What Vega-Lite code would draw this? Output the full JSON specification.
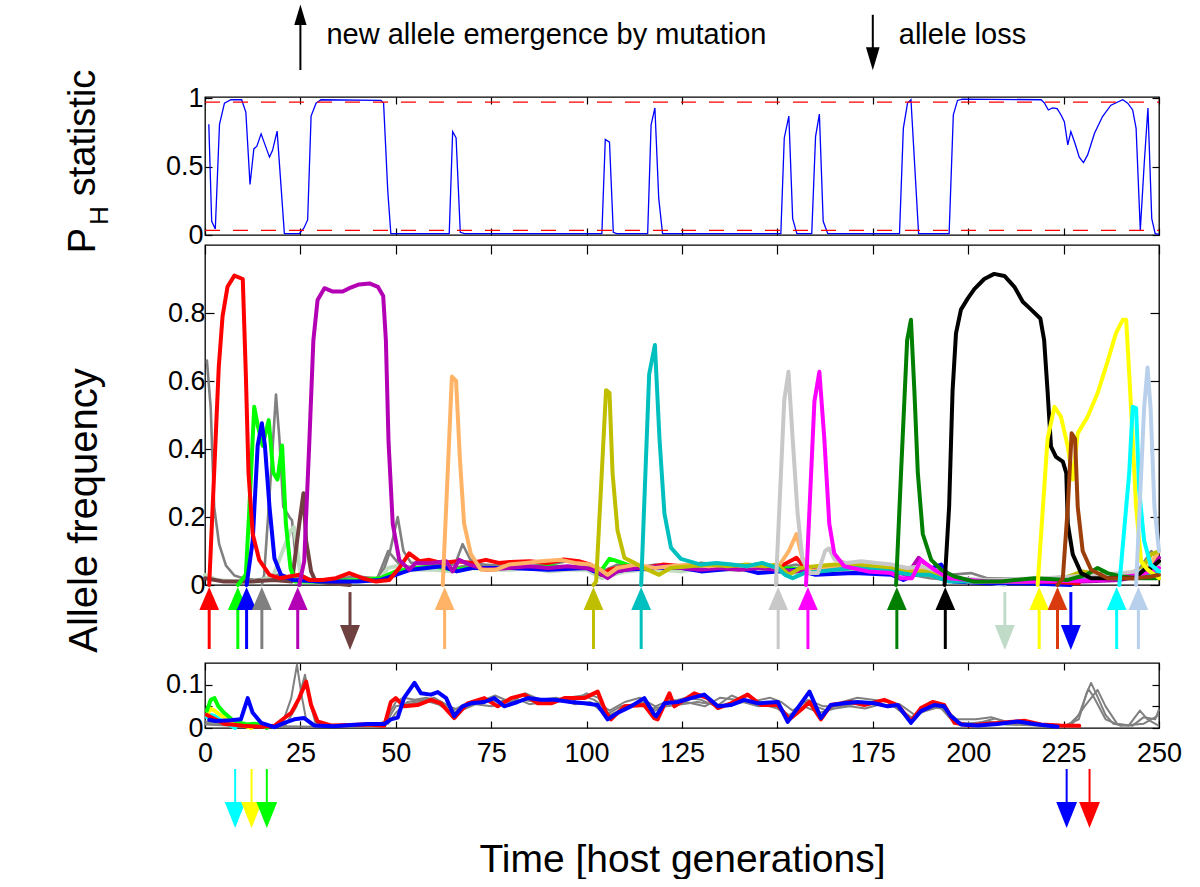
{
"$schema": "https://vega.github.io/schema/vega-lite/v6.json",
"padding": {"left": 63, "top": 0, "right": 0, "bottom": 0},
"autosize": {"type": "pad"},
"spacing": 10,
"bounds": "flush",
"background": "white",
"config": {
 "font": "Liberation Sans",
 "view": {"stroke": "#000000", "strokeWidth": 1.3},
 "axis": {"domain": false, "grid": false, "tickColor": "#000000", "tickWidth": 1.2, "labelColor": "#000000", "titleColor": "#000000", "labelFont": "Liberation Sans", "titleFont": "Liberation Sans", "labelFontSize": 27, "titleFontWeight": "normal"}
},
"resolve": {"scale": {"x": "independent", "y": "independent", "color": "independent"}},
"datasets": {
 "header": [{"t": 25, "dir": "up", "label": "new allele emergence by mutation"}, {"t": 175, "dir": "down", "label": "allele loss"}],
 "rules": [{"h": 0.972}, {"h": 0.034}],
 "ph": [
  {"t":1,"v":0.81},{"t":1.75,"v":0.1},{"t":2.7,"v":0.044},{"t":3.8,"v":0.81},{"t":5.1,"v":0.965},{"t":6.8,"v":0.99},{"t":9.6,"v":0.99},{"t":10.7,"v":0.9},{"t":11.8,"v":0.37},{"t":12.8,"v":0.63},{"t":13.6,"v":0.65},{"t":14.7,"v":0.74},{"t":16.9,"v":0.57},{"t":17.7,"v":0.62},{"t":18.9,"v":0.76},{"t":20.8,"v":0.01},{"t":24.7,"v":0.01},{"t":25.9,"v":0.05},{"t":26.9,"v":0.11},{"t":27.8,"v":0.87},{"t":29.1,"v":0.965},{"t":30.4,"v":0.99},{"t":46.1,"v":0.985},{"t":46.8,"v":0.965},{"t":47.9,"v":0.32},{"t":48.7,"v":0.01},{"t":64,"v":0.01},{"t":64.9,"v":0.757},{"t":65.8,"v":0.71},{"t":66.9,"v":0.02},{"t":68,"v":0.01},{"t":104,"v":0.01},{"t":104.9,"v":0.7},{"t":106,"v":0.68},{"t":107,"v":0.02},{"t":107.9,"v":0.01},{"t":116,"v":0.01},{"t":116.9,"v":0.806},{"t":117.9,"v":0.93},{"t":118.9,"v":0.27},{"t":119.9,"v":0.01},{"t":150.9,"v":0.01},{"t":151.8,"v":0.71},{"t":153,"v":0.87},{"t":154,"v":0.12},{"t":155.1,"v":0.01},{"t":159,"v":0.01},{"t":160,"v":0.72},{"t":161,"v":0.885},{"t":162,"v":0.1},{"t":163.2,"v":0.01},{"t":182,"v":0.01},{"t":183,"v":0.78},{"t":184.1,"v":0.965},{"t":185,"v":0.99},{"t":187,"v":0.01},{"t":195,"v":0.01},{"t":196.1,"v":0.88},{"t":197.2,"v":0.985},{"t":198.5,"v":0.995},{"t":219.1,"v":0.99},{"t":220,"v":0.965},{"t":221,"v":0.915},{"t":222.1,"v":0.93},{"t":223.3,"v":0.925},{"t":224.3,"v":0.88},{"t":225.2,"v":0.83},{"t":226.1,"v":0.66},{"t":226.9,"v":0.757},{"t":228,"v":0.67},{"t":229.1,"v":0.57},{"t":230.2,"v":0.53},{"t":231.3,"v":0.586},{"t":233.1,"v":0.745},{"t":235.2,"v":0.867},{"t":237.4,"v":0.95},{"t":240.5,"v":0.99},{"t":241.8,"v":0.965},{"t":243.1,"v":0.915},{"t":244,"v":0.78},{"t":245.1,"v":0.035},{"t":246.1,"v":0.51},{"t":247.1,"v":0.93},{"t":248.1,"v":0.12},{"t":249,"v":0.01},{"t":250,"v":0.005}
 ],
 "mid": [
  {"s":"grey0","t":0.5,"v":0.66},{"s":"grey0","t":1.5,"v":0.52},{"s":"grey0","t":2.4,"v":0.23},{"s":"grey0","t":3.7,"v":0.12},{"s":"grey0","t":5.5,"v":0.057},{"s":"grey0","t":7.7,"v":0.028},{"s":"grey0","t":10,"v":0.02},{"s":"grey0","t":13,"v":0.015},{"s":"grey0","t":16,"v":0.02},{"s":"grey0","t":19,"v":0.03},{"s":"grey0","t":22,"v":0.025},{"s":"grey0","t":25,"v":0.02},{"s":"grey0","t":30,"v":0.015},{"s":"grey0","t":35,"v":0.02},{"s":"grey0","t":40,"v":0.025},{"s":"grey0","t":45,"v":0.02},{"s":"grey0","t":47,"v":0.05},{"s":"grey0","t":48.5,"v":0.1},{"s":"grey0","t":50.5,"v":0.2},{"s":"grey0","t":52,"v":0.1},{"s":"grey0","t":54,"v":0.065},{"s":"grey0","t":57,"v":0.065},{"s":"grey0","t":62,"v":0.06},{"s":"grey0","t":65.5,"v":0.06},{"s":"grey0","t":67.5,"v":0.12},{"s":"grey0","t":69.5,"v":0.075},{"s":"grey0","t":73,"v":0.06},{"s":"grey0","t":80,"v":0.055},{"s":"grey0","t":85,"v":0.065},{"s":"grey0","t":90,"v":0.06},{"s":"grey0","t":95,"v":0.07},{"s":"grey0","t":100,"v":0.06},{"s":"grey0","t":104,"v":0.04},{"s":"grey0","t":108,"v":0.06},{"s":"grey0","t":113,"v":0.05},{"s":"grey0","t":118,"v":0.06},{"s":"grey0","t":125,"v":0.055},{"s":"grey0","t":130,"v":0.065},{"s":"grey0","t":135,"v":0.06},{"s":"grey0","t":140,"v":0.05},{"s":"grey0","t":145,"v":0.06},{"s":"grey0","t":150,"v":0.05},{"s":"grey0","t":155,"v":0.06},{"s":"grey0","t":160,"v":0.04},{"s":"grey0","t":165,"v":0.055},{"s":"grey0","t":170,"v":0.065},{"s":"grey0","t":175,"v":0.06},{"s":"grey0","t":180,"v":0.05},{"s":"grey0","t":185,"v":0.03},{"s":"grey0","t":190,"v":0.03},{"s":"grey0","t":195,"v":0.03},{"s":"grey0","t":200.7,"v":0.035},{"s":"grey0","t":205,"v":0.02},{"s":"grey0","t":210,"v":0.02},{"s":"grey0","t":220,"v":0.02},{"s":"grey0","t":230,"v":0.03},{"s":"grey0","t":235,"v":0.035},{"s":"grey0","t":240,"v":0.02},{"s":"grey0","t":245,"v":0.05},{"s":"grey0","t":248,"v":0.1},{"s":"grey0","t":250,"v":0.07},
  {"s":"grey","t":14.9,"v":0},{"s":"grey","t":15.5,"v":0.03},{"s":"grey","t":17.3,"v":0.33},{"s":"grey","t":18.6,"v":0.56},{"s":"grey","t":19.5,"v":0.43},{"s":"grey","t":20.5,"v":0.23},{"s":"grey","t":22.1,"v":0.2},{"s":"grey","t":22.8,"v":0.19},{"s":"grey","t":23.6,"v":0.1},{"s":"grey","t":25.3,"v":0.03},{"s":"grey","t":28,"v":0.015},{"s":"grey","t":35,"v":0.01},{"s":"grey","t":45,"v":0.015},{"s":"grey","t":48,"v":0.1},{"s":"grey","t":49.5,"v":0.08},{"s":"grey","t":51,"v":0.06},{"s":"grey","t":55,"v":0.05},{"s":"grey","t":60,"v":0.055},{"s":"grey","t":65,"v":0.05},{"s":"grey","t":70,"v":0.06},{"s":"grey","t":75,"v":0.055},{"s":"grey","t":80,"v":0.05},{"s":"grey","t":85,"v":0.055},{"s":"grey","t":90,"v":0.055},{"s":"grey","t":95,"v":0.05},{"s":"grey","t":100,"v":0.05},{"s":"grey","t":105,"v":0.03},{"s":"grey","t":110,"v":0.05},{"s":"grey","t":115,"v":0.055},{"s":"grey","t":120,"v":0.045},{"s":"grey","t":125,"v":0.05},{"s":"grey","t":130,"v":0.05},{"s":"grey","t":135,"v":0.055},{"s":"grey","t":140,"v":0.055},{"s":"grey","t":145,"v":0.05},{"s":"grey","t":150,"v":0.045},{"s":"grey","t":155,"v":0.05},{"s":"grey","t":160,"v":0.05},{"s":"grey","t":165,"v":0.05},{"s":"grey","t":170,"v":0.05},{"s":"grey","t":175,"v":0.055},{"s":"grey","t":180,"v":0.045},{"s":"grey","t":185,"v":0.03},{"s":"grey","t":190,"v":0.02},{"s":"grey","t":195,"v":0.015},{"s":"grey","t":200,"v":0.01},{"s":"grey","t":210,"v":0.015},{"s":"grey","t":225,"v":0.02},{"s":"grey","t":232,"v":0.03},{"s":"grey","t":240,"v":0.02},{"s":"grey","t":246,"v":0.03},{"s":"grey","t":250,"v":0.08},
  {"s":"palegreen","t":0,"v":0.03},{"s":"palegreen","t":3,"v":0.015},{"s":"palegreen","t":8,"v":0.01},{"s":"palegreen","t":14,"v":0.01},{"s":"palegreen","t":18,"v":0.03},{"s":"palegreen","t":20,"v":0.09},{"s":"palegreen","t":22.5,"v":0.16},{"s":"palegreen","t":23.3,"v":0.17},{"s":"palegreen","t":24.5,"v":0.075},{"s":"palegreen","t":25.3,"v":0.01},{"s":"palegreen","t":30,"v":0.008},{"s":"palegreen","t":40,"v":0.01},{"s":"palegreen","t":46,"v":0.015},{"s":"palegreen","t":48,"v":0.05},{"s":"palegreen","t":50,"v":0.055},{"s":"palegreen","t":55,"v":0.045},{"s":"palegreen","t":60,"v":0.045},{"s":"palegreen","t":65,"v":0.04},{"s":"palegreen","t":70,"v":0.05},{"s":"palegreen","t":75,"v":0.045},{"s":"palegreen","t":80,"v":0.045},{"s":"palegreen","t":85,"v":0.05},{"s":"palegreen","t":90,"v":0.04},{"s":"palegreen","t":95,"v":0.045},{"s":"palegreen","t":100,"v":0.045},{"s":"palegreen","t":104,"v":0.02},{"s":"palegreen","t":110,"v":0.04},{"s":"palegreen","t":115,"v":0.045},{"s":"palegreen","t":120,"v":0.045},{"s":"palegreen","t":125,"v":0.04},{"s":"palegreen","t":130,"v":0.05},{"s":"palegreen","t":135,"v":0.045},{"s":"palegreen","t":140,"v":0.045},{"s":"palegreen","t":145,"v":0.04},{"s":"palegreen","t":150,"v":0.04},{"s":"palegreen","t":155,"v":0.035},{"s":"palegreen","t":160,"v":0.045},{"s":"palegreen","t":165,"v":0.04},{"s":"palegreen","t":170,"v":0.045},{"s":"palegreen","t":175,"v":0.04},{"s":"palegreen","t":180,"v":0.04},{"s":"palegreen","t":185,"v":0.035},{"s":"palegreen","t":190,"v":0.03},{"s":"palegreen","t":195,"v":0.015},{"s":"palegreen","t":200,"v":0.01},{"s":"palegreen","t":205,"v":0.008},{"s":"palegreen","t":209.6,"v":0},
  {"s":"brown1","t":0,"v":0.02},{"s":"brown1","t":5,"v":0.01},{"s":"brown1","t":12,"v":0.01},{"s":"brown1","t":18,"v":0.015},{"s":"brown1","t":22.8,"v":0.01},{"s":"brown1","t":24.7,"v":0.18},{"s":"brown1","t":25.8,"v":0.27},{"s":"brown1","t":26.5,"v":0.13},{"s":"brown1","t":27.8,"v":0.04},{"s":"brown1","t":29,"v":0.01},{"s":"brown1","t":33,"v":0.005},{"s":"brown1","t":38,"v":0},
  {"s":"green","t":8.6,"v":0},{"s":"green","t":10.7,"v":0.03},{"s":"green","t":11.6,"v":0.22},{"s":"green","t":12.9,"v":0.524},{"s":"green","t":13.8,"v":0.47},{"s":"green","t":15.1,"v":0.41},{"s":"green","t":16.7,"v":0.485},{"s":"green","t":17.9,"v":0.33},{"s":"green","t":19,"v":0.31},{"s":"green","t":20.2,"v":0.41},{"s":"green","t":21.2,"v":0.18},{"s":"green","t":22.4,"v":0.05},{"s":"green","t":23.6,"v":0.01},{"s":"green","t":30,"v":0.01},{"s":"green","t":40,"v":0.015},{"s":"green","t":46,"v":0.02},{"s":"green","t":50,"v":0.04},{"s":"green","t":55,"v":0.05},{"s":"green","t":60,"v":0.055},{"s":"green","t":65,"v":0.045},{"s":"green","t":70,"v":0.05},{"s":"green","t":80,"v":0.05},{"s":"green","t":90,"v":0.055},{"s":"green","t":100,"v":0.05},{"s":"green","t":104,"v":0.045},{"s":"green","t":106,"v":0.077},{"s":"green","t":108,"v":0.07},{"s":"green","t":112,"v":0.055},{"s":"green","t":120,"v":0.05},{"s":"green","t":130,"v":0.05},{"s":"green","t":140,"v":0.055},{"s":"green","t":150,"v":0.05},{"s":"green","t":160,"v":0.045},{"s":"green","t":170,"v":0.05},{"s":"green","t":180,"v":0.04},{"s":"green","t":190,"v":0.03},{"s":"green","t":200,"v":0.01},{"s":"green","t":220,"v":0.01},{"s":"green","t":240,"v":0.02},{"s":"green","t":250,"v":0.06},
  {"s":"blue","t":10.9,"v":0},{"s":"blue","t":12.5,"v":0.13},{"s":"blue","t":13.8,"v":0.41},{"s":"blue","t":14.9,"v":0.476},{"s":"blue","t":15.7,"v":0.41},{"s":"blue","t":16.9,"v":0.23},{"s":"blue","t":18.2,"v":0.078},{"s":"blue","t":19.9,"v":0.03},{"s":"blue","t":23,"v":0.015},{"s":"blue","t":30,"v":0.01},{"s":"blue","t":40,"v":0.01},{"s":"blue","t":46,"v":0.015},{"s":"blue","t":50,"v":0.03},{"s":"blue","t":54,"v":0.045},{"s":"blue","t":58,"v":0.05},{"s":"blue","t":62,"v":0.055},{"s":"blue","t":66,"v":0.04},{"s":"blue","t":70,"v":0.05},{"s":"blue","t":80,"v":0.05},{"s":"blue","t":90,"v":0.045},{"s":"blue","t":100,"v":0.05},{"s":"blue","t":104,"v":0.03},{"s":"blue","t":110,"v":0.045},{"s":"blue","t":118,"v":0.05},{"s":"blue","t":125,"v":0.05},{"s":"blue","t":130,"v":0.04},{"s":"blue","t":135,"v":0.045},{"s":"blue","t":140,"v":0.05},{"s":"blue","t":145,"v":0.035},{"s":"blue","t":150,"v":0.04},{"s":"blue","t":155,"v":0.045},{"s":"blue","t":160,"v":0.03},{"s":"blue","t":170,"v":0.035},{"s":"blue","t":180,"v":0.03},{"s":"blue","t":183,"v":0.015},{"s":"blue","t":187,"v":0.035},{"s":"blue","t":192.9,"v":0.06},{"s":"blue","t":196,"v":0.01},{"s":"blue","t":205,"v":0.005},{"s":"blue","t":215,"v":0.005},{"s":"blue","t":226.9,"v":0},
  {"s":"red","t":1.1,"v":0},{"s":"red","t":2.4,"v":0.33},{"s":"red","t":3.6,"v":0.64},{"s":"red","t":4.6,"v":0.79},{"s":"red","t":5.9,"v":0.877},{"s":"red","t":7.7,"v":0.91},{"s":"red","t":9.9,"v":0.9},{"s":"red","t":10.7,"v":0.62},{"s":"red","t":11.4,"v":0.33},{"s":"red","t":12.5,"v":0.15},{"s":"red","t":14.2,"v":0.074},{"s":"red","t":16.9,"v":0.03},{"s":"red","t":19.5,"v":0.02},{"s":"red","t":22.1,"v":0.025},{"s":"red","t":24.7,"v":0.03},{"s":"red","t":27.3,"v":0.015},{"s":"red","t":30.8,"v":0.015},{"s":"red","t":34.3,"v":0.02},{"s":"red","t":37.8,"v":0.035},{"s":"red","t":41.3,"v":0.02},{"s":"red","t":44.8,"v":0.01},{"s":"red","t":48.3,"v":0.015},{"s":"red","t":50.9,"v":0.05},{"s":"red","t":53.5,"v":0.093},{"s":"red","t":56.2,"v":0.07},{"s":"red","t":58.8,"v":0.074},{"s":"red","t":62,"v":0.065},{"s":"red","t":66,"v":0.07},{"s":"red","t":70,"v":0.065},{"s":"red","t":73.6,"v":0.074},{"s":"red","t":77,"v":0.065},{"s":"red","t":80,"v":0.068},{"s":"red","t":85,"v":0.07},{"s":"red","t":90,"v":0.065},{"s":"red","t":94,"v":0.075},{"s":"red","t":98,"v":0.07},{"s":"red","t":101,"v":0.06},{"s":"red","t":104,"v":0.03},{"s":"red","t":106,"v":0.045},{"s":"red","t":110,"v":0.055},{"s":"red","t":115,"v":0.05},{"s":"red","t":120,"v":0.06},{"s":"red","t":125,"v":0.055},{"s":"red","t":130,"v":0.06},{"s":"red","t":135,"v":0.05},{"s":"red","t":140,"v":0.055},{"s":"red","t":145,"v":0.06},{"s":"red","t":150,"v":0.05},{"s":"red","t":155,"v":0.08},{"s":"red","t":158,"v":0.04},{"s":"red","t":162,"v":0.05},{"s":"red","t":167,"v":0.06},{"s":"red","t":172,"v":0.06},{"s":"red","t":177,"v":0.055},{"s":"red","t":182,"v":0.05},{"s":"red","t":186,"v":0.04},{"s":"red","t":190,"v":0.045},{"s":"red","t":194,"v":0.02},{"s":"red","t":200,"v":0.01},{"s":"red","t":210,"v":0.01},{"s":"red","t":220,"v":0.01},{"s":"red","t":229,"v":0.005},
  {"s":"purple","t":24.7,"v":0},{"s":"purple","t":26,"v":0.07},{"s":"purple","t":27.3,"v":0.41},{"s":"purple","t":28.4,"v":0.72},{"s":"purple","t":29.5,"v":0.838},{"s":"purple","t":31.3,"v":0.873},{"s":"purple","t":33.5,"v":0.863},{"s":"purple","t":36.1,"v":0.863},{"s":"purple","t":37.8,"v":0.873},{"s":"purple","t":40.4,"v":0.884},{"s":"purple","t":43.1,"v":0.887},{"s":"purple","t":45.3,"v":0.877},{"s":"purple","t":46.7,"v":0.85},{"s":"purple","t":47.4,"v":0.72},{"s":"purple","t":48.1,"v":0.42},{"s":"purple","t":49.2,"v":0.18},{"s":"purple","t":50.9,"v":0.074},{"s":"purple","t":53.5,"v":0.045},{"s":"purple","t":55.3,"v":0.065},{"s":"purple","t":58.8,"v":0.064},{"s":"purple","t":63.2,"v":0.07},{"s":"purple","t":64.9,"v":0.04},{"s":"purple","t":66.6,"v":0.074},{"s":"purple","t":69.3,"v":0.06},{"s":"purple","t":73.6,"v":0.045},{"s":"purple","t":79.6,"v":0.05},{"s":"purple","t":85,"v":0.055},{"s":"purple","t":90,"v":0.05},{"s":"purple","t":95,"v":0.055},{"s":"purple","t":100,"v":0.05},{"s":"purple","t":103,"v":0.04},{"s":"purple","t":105.5,"v":0.02},{"s":"purple","t":108,"v":0.04},{"s":"purple","t":113,"v":0.05},{"s":"purple","t":120,"v":0.055},{"s":"purple","t":125,"v":0.05},{"s":"purple","t":130,"v":0.045},{"s":"purple","t":135,"v":0.05},{"s":"purple","t":140,"v":0.045},{"s":"purple","t":145,"v":0.05},{"s":"purple","t":150,"v":0.045},{"s":"purple","t":155,"v":0.04},{"s":"purple","t":160,"v":0.05},{"s":"purple","t":165,"v":0.055},{"s":"purple","t":170,"v":0.05},{"s":"purple","t":175,"v":0.05},{"s":"purple","t":180,"v":0.04},{"s":"purple","t":184,"v":0.03},{"s":"purple","t":187,"v":0.08},{"s":"purple","t":190,"v":0.05},{"s":"purple","t":195,"v":0.02},{"s":"purple","t":200,"v":0.01},{"s":"purple","t":210,"v":0.01},{"s":"purple","t":220,"v":0.015},{"s":"purple","t":230,"v":0.01},{"s":"purple","t":240,"v":0.015},{"s":"purple","t":246,"v":0.03},{"s":"purple","t":250,"v":0.08},
  {"s":"orange","t":62.3,"v":0},{"s":"orange","t":63.6,"v":0.33},{"s":"orange","t":64.7,"v":0.613},{"s":"orange","t":65.8,"v":0.6},{"s":"orange","t":66.8,"v":0.37},{"s":"orange","t":67.9,"v":0.18},{"s":"orange","t":69.7,"v":0.09},{"s":"orange","t":72.3,"v":0.045},{"s":"orange","t":76.3,"v":0.045},{"s":"orange","t":79.6,"v":0.06},{"s":"orange","t":84,"v":0.065},{"s":"orange","t":88,"v":0.07},{"s":"orange","t":93.3,"v":0.074},{"s":"orange","t":97,"v":0.065},{"s":"orange","t":101,"v":0.06},{"s":"orange","t":103,"v":0.05},{"s":"orange","t":105.5,"v":0.03},{"s":"orange","t":108,"v":0.05},{"s":"orange","t":113,"v":0.06},{"s":"orange","t":118,"v":0.05},{"s":"orange","t":122,"v":0.055},{"s":"orange","t":127,"v":0.06},{"s":"orange","t":132,"v":0.055},{"s":"orange","t":137,"v":0.06},{"s":"orange","t":142,"v":0.055},{"s":"orange","t":147,"v":0.06},{"s":"orange","t":150,"v":0.05},{"s":"orange","t":153,"v":0.1},{"s":"orange","t":155,"v":0.15},{"s":"orange","t":156.5,"v":0.08},{"s":"orange","t":159,"v":0.04},{"s":"orange","t":163,"v":0.05},{"s":"orange","t":168,"v":0.06},{"s":"orange","t":173,"v":0.065},{"s":"orange","t":178,"v":0.06},{"s":"orange","t":182,"v":0.05},{"s":"orange","t":186,"v":0.04},{"s":"orange","t":190,"v":0.05},{"s":"orange","t":195,"v":0.02},{"s":"orange","t":200,"v":0.01},{"s":"orange","t":215,"v":0.01},{"s":"orange","t":230,"v":0.015},{"s":"orange","t":240,"v":0.02},{"s":"orange","t":247,"v":0.05},{"s":"orange","t":250,"v":0.1},
  {"s":"olive","t":101.8,"v":0},{"s":"olive","t":102.5,"v":0.01},{"s":"olive","t":105.1,"v":0.573},{"s":"olive","t":106,"v":0.565},{"s":"olive","t":106.8,"v":0.33},{"s":"olive","t":108.1,"v":0.16},{"s":"olive","t":109.9,"v":0.08},{"s":"olive","t":112.5,"v":0.065},{"s":"olive","t":116,"v":0.045},{"s":"olive","t":119,"v":0.03},{"s":"olive","t":122,"v":0.05},{"s":"olive","t":127,"v":0.055},{"s":"olive","t":132,"v":0.06},{"s":"olive","t":137,"v":0.055},{"s":"olive","t":142,"v":0.06},{"s":"olive","t":147,"v":0.055},{"s":"olive","t":150,"v":0.06},{"s":"olive","t":153,"v":0.03},{"s":"olive","t":156,"v":0.05},{"s":"olive","t":160,"v":0.055},{"s":"olive","t":165,"v":0.06},{"s":"olive","t":170,"v":0.06},{"s":"olive","t":175,"v":0.055},{"s":"olive","t":180,"v":0.05},{"s":"olive","t":185,"v":0.04},{"s":"olive","t":190,"v":0.04},{"s":"olive","t":195,"v":0.015},{"s":"olive","t":205,"v":0.01},{"s":"olive","t":215,"v":0.015},{"s":"olive","t":225,"v":0.02},{"s":"olive","t":230,"v":0.04},{"s":"olive","t":235,"v":0.03},{"s":"olive","t":240,"v":0.025},{"s":"olive","t":245,"v":0.04},{"s":"olive","t":248,"v":0.09},{"s":"olive","t":250,"v":0.1},
  {"s":"teal","t":114.3,"v":0},{"s":"teal","t":116.4,"v":0.62},{"s":"teal","t":117.9,"v":0.706},{"s":"teal","t":119.1,"v":0.43},{"s":"teal","t":120.4,"v":0.21},{"s":"teal","t":122.1,"v":0.11},{"s":"teal","t":124.7,"v":0.077},{"s":"teal","t":129.9,"v":0.06},{"s":"teal","t":134,"v":0.065},{"s":"teal","t":138,"v":0.06},{"s":"teal","t":142,"v":0.055},{"s":"teal","t":146,"v":0.065},{"s":"teal","t":150,"v":0.05},{"s":"teal","t":152,"v":0.03},{"s":"teal","t":154,"v":0.02},{"s":"teal","t":157,"v":0.035},{"s":"teal","t":161,"v":0.04},{"s":"teal","t":165,"v":0.045},{"s":"teal","t":170,"v":0.05},{"s":"teal","t":175,"v":0.045},{"s":"teal","t":180,"v":0.04},{"s":"teal","t":185,"v":0.03},{"s":"teal","t":190,"v":0.03},{"s":"teal","t":195,"v":0.01},{"s":"teal","t":210,"v":0.01},{"s":"teal","t":225,"v":0.015},{"s":"teal","t":240,"v":0.02},{"s":"teal","t":250,"v":0.04},
  {"s":"lightgrey","t":149.6,"v":0},{"s":"lightgrey","t":151.8,"v":0.544},{"s":"lightgrey","t":152.9,"v":0.627},{"s":"lightgrey","t":154,"v":0.43},{"s":"lightgrey","t":155.3,"v":0.21},{"s":"lightgrey","t":156.6,"v":0.074},{"s":"lightgrey","t":158.5,"v":0.035},{"s":"lightgrey","t":160.6,"v":0.035},{"s":"lightgrey","t":162.5,"v":0.1},{"s":"lightgrey","t":163.5,"v":0.108},{"s":"lightgrey","t":165,"v":0.075},{"s":"lightgrey","t":168,"v":0.065},{"s":"lightgrey","t":172,"v":0.07},{"s":"lightgrey","t":176,"v":0.065},{"s":"lightgrey","t":180,"v":0.06},{"s":"lightgrey","t":184,"v":0.05},{"s":"lightgrey","t":188,"v":0.055},{"s":"lightgrey","t":192,"v":0.04},{"s":"lightgrey","t":196,"v":0.02},{"s":"lightgrey","t":205,"v":0.015},{"s":"lightgrey","t":220,"v":0.02},{"s":"lightgrey","t":235,"v":0.03},{"s":"lightgrey","t":245,"v":0.04},{"s":"lightgrey","t":250,"v":0.06},
  {"s":"magenta","t":157.5,"v":0},{"s":"magenta","t":159.7,"v":0.54},{"s":"magenta","t":161,"v":0.627},{"s":"magenta","t":162.3,"v":0.43},{"s":"magenta","t":163.6,"v":0.18},{"s":"magenta","t":164.9,"v":0.093},{"s":"magenta","t":167.5,"v":0.055},{"s":"magenta","t":173.7,"v":0.04},{"s":"magenta","t":179.8,"v":0.035},{"s":"magenta","t":182.4,"v":0.02},{"s":"magenta","t":185.3,"v":0.02},{"s":"magenta","t":187.6,"v":0.074},{"s":"magenta","t":191.1,"v":0.045},{"s":"magenta","t":195,"v":0.02},{"s":"magenta","t":205,"v":0.01},{"s":"magenta","t":220,"v":0.01},{"s":"magenta","t":235,"v":0.015},{"s":"magenta","t":245,"v":0.03},{"s":"magenta","t":250,"v":0.05},
  {"s":"darkgreen","t":181.1,"v":0},{"s":"darkgreen","t":182.4,"v":0.33},{"s":"darkgreen","t":184,"v":0.72},{"s":"darkgreen","t":185,"v":0.78},{"s":"darkgreen","t":185.9,"v":0.57},{"s":"darkgreen","t":186.8,"v":0.33},{"s":"darkgreen","t":188.1,"v":0.15},{"s":"darkgreen","t":190.3,"v":0.074},{"s":"darkgreen","t":192.9,"v":0.045},{"s":"darkgreen","t":196.4,"v":0.025},{"s":"darkgreen","t":201.6,"v":0.01},{"s":"darkgreen","t":208.6,"v":0.01},{"s":"darkgreen","t":217.3,"v":0.02},{"s":"darkgreen","t":226.1,"v":0.015},{"s":"darkgreen","t":231,"v":0.03},{"s":"darkgreen","t":233.9,"v":0.05},{"s":"darkgreen","t":236.5,"v":0.035},{"s":"darkgreen","t":240,"v":0.025},{"s":"darkgreen","t":245,"v":0.02},{"s":"darkgreen","t":250,"v":0.02},
  {"s":"black","t":193.8,"v":0},{"s":"black","t":195,"v":0.23},{"s":"black","t":195.9,"v":0.57},{"s":"black","t":196.8,"v":0.74},{"s":"black","t":198.1,"v":0.81},{"s":"black","t":199.9,"v":0.843},{"s":"black","t":201.6,"v":0.87},{"s":"black","t":204.2,"v":0.9},{"s":"black","t":206.8,"v":0.915},{"s":"black","t":209.5,"v":0.909},{"s":"black","t":212.1,"v":0.877},{"s":"black","t":214.3,"v":0.833},{"s":"black","t":216.5,"v":0.81},{"s":"black","t":218.9,"v":0.784},{"s":"black","t":219.9,"v":0.72},{"s":"black","t":220.8,"v":0.57},{"s":"black","t":221.7,"v":0.407},{"s":"black","t":223,"v":0.377},{"s":"black","t":224.8,"v":0.363},{"s":"black","t":225.7,"v":0.33},{"s":"black","t":226.1,"v":0.18},{"s":"black","t":227.4,"v":0.09},{"s":"black","t":229.6,"v":0.035},{"s":"black","t":232.2,"v":0.02},{"s":"black","t":239.2,"v":0.02},{"s":"black","t":243.6,"v":0.02},{"s":"black","t":246.1,"v":0.045},{"s":"black","t":248,"v":0.05},{"s":"black","t":250,"v":0.07},
  {"s":"yellow","t":218.2,"v":0},{"s":"yellow","t":220.8,"v":0.43},{"s":"yellow","t":222.6,"v":0.524},{"s":"yellow","t":224.3,"v":0.495},{"s":"yellow","t":226.1,"v":0.407},{"s":"yellow","t":227.4,"v":0.31},{"s":"yellow","t":228.7,"v":0.446},{"s":"yellow","t":231.3,"v":0.495},{"s":"yellow","t":233.9,"v":0.564},{"s":"yellow","t":236.6,"v":0.66},{"s":"yellow","t":238.7,"v":0.74},{"s":"yellow","t":240.5,"v":0.78},{"s":"yellow","t":241.4,"v":0.78},{"s":"yellow","t":242.2,"v":0.62},{"s":"yellow","t":243.1,"v":0.43},{"s":"yellow","t":244,"v":0.23},{"s":"yellow","t":245.3,"v":0.07},{"s":"yellow","t":247,"v":0.045},{"s":"yellow","t":250,"v":0.02},
  {"s":"sienna","t":223.4,"v":0},{"s":"sienna","t":224.8,"v":0.02},{"s":"sienna","t":226.1,"v":0.23},{"s":"sienna","t":227.1,"v":0.446},{"s":"sienna","t":228,"v":0.43},{"s":"sienna","t":228.7,"v":0.23},{"s":"sienna","t":230,"v":0.1},{"s":"sienna","t":232.2,"v":0.045},{"s":"sienna","t":236.5,"v":0.02},{"s":"sienna","t":243.6,"v":0.02},{"s":"sienna","t":248,"v":0.025},{"s":"sienna","t":250,"v":0.03},
  {"s":"cyan","t":239.6,"v":0},{"s":"cyan","t":242.2,"v":0.33},{"s":"cyan","t":243.1,"v":0.524},{"s":"cyan","t":244,"v":0.52},{"s":"cyan","t":244.8,"v":0.28},{"s":"cyan","t":246.1,"v":0.13},{"s":"cyan","t":247.8,"v":0.06},{"s":"cyan","t":250,"v":0.04},
  {"s":"lightblue","t":244,"v":0},{"s":"lightblue","t":246.1,"v":0.52},{"s":"lightblue","t":247,"v":0.64},{"s":"lightblue","t":247.8,"v":0.52},{"s":"lightblue","t":248.8,"v":0.23},{"s":"lightblue","t":250,"v":0.1}
 ],
 "arrows": [
  {"t":1.1,"a":"red","dir":"up"},{"t":8.6,"a":"green","dir":"up"},{"t":10.9,"a":"blue","dir":"up"},{"t":14.9,"a":"grey","dir":"up"},{"t":24.3,"a":"purple","dir":"up"},{"t":38,"a":"brown1","dir":"down"},{"t":62.8,"a":"orange","dir":"up"},{"t":101.8,"a":"olive","dir":"up"},{"t":114.3,"a":"teal","dir":"up"},{"t":150.2,"a":"lightgrey","dir":"up"},{"t":158,"a":"magenta","dir":"up"},{"t":181.3,"a":"darkgreen","dir":"up"},{"t":194,"a":"black","dir":"up"},{"t":209.6,"a":"palegreen","dir":"down"},{"t":218.6,"a":"yellow","dir":"up"},{"t":223.4,"a":"orangered","dir":"up"},{"t":226.9,"a":"blue","dir":"down"},{"t":238.9,"a":"cyan","dir":"up"},{"t":244.6,"a":"lightblue","dir":"up"}
 ],
 "arrows2": [
  {"t":7.9,"a":"cyan"},{"t":12.2,"a":"yellow"},{"t":16.2,"a":"green"},{"t":225.8,"a":"blue"},{"t":231.8,"a":"red"}
 ],
 "bot": [
  {"s":"g1","t":0,"v":0.015},{"s":"g1","t":5,"v":0.01},{"s":"g1","t":10,"v":0.005},{"s":"g1","t":15,"v":0.003},{"s":"g1","t":20,"v":0.003},{"s":"g1","t":22.6,"v":0.069},{"s":"g1","t":24.1,"v":0.146},{"s":"g1","t":25.3,"v":0.076},{"s":"g1","t":26.5,"v":0.02},{"s":"g1","t":28,"v":0.006},{"s":"g1","t":35,"v":0.004},{"s":"g1","t":42,"v":0.006},{"s":"g1","t":47,"v":0.008},{"s":"g1","t":48.7,"v":0.04},{"s":"g1","t":50,"v":0.06},{"s":"g1","t":52,"v":0.07},{"s":"g1","t":55,"v":0.065},{"s":"g1","t":58,"v":0.07},{"s":"g1","t":62,"v":0.06},{"s":"g1","t":65,"v":0.04},{"s":"g1","t":68,"v":0.055},{"s":"g1","t":72,"v":0.06},{"s":"g1","t":76,"v":0.075},{"s":"g1","t":80,"v":0.06},{"s":"g1","t":84,"v":0.08},{"s":"g1","t":88,"v":0.065},{"s":"g1","t":92,"v":0.07},{"s":"g1","t":96,"v":0.06},{"s":"g1","t":100,"v":0.08},{"s":"g1","t":103,"v":0.07},{"s":"g1","t":106,"v":0.03},{"s":"g1","t":110,"v":0.045},{"s":"g1","t":115,"v":0.06},{"s":"g1","t":118,"v":0.04},{"s":"g1","t":122,"v":0.06},{"s":"g1","t":126,"v":0.07},{"s":"g1","t":130,"v":0.065},{"s":"g1","t":134,"v":0.05},{"s":"g1","t":138,"v":0.075},{"s":"g1","t":142,"v":0.06},{"s":"g1","t":146,"v":0.055},{"s":"g1","t":150,"v":0.045},{"s":"g1","t":153,"v":0.025},{"s":"g1","t":157,"v":0.06},{"s":"g1","t":160,"v":0.05},{"s":"g1","t":163,"v":0.04},{"s":"g1","t":167,"v":0.06},{"s":"g1","t":171,"v":0.07},{"s":"g1","t":175,"v":0.065},{"s":"g1","t":179,"v":0.06},{"s":"g1","t":182,"v":0.04},{"s":"g1","t":185,"v":0.02},{"s":"g1","t":189,"v":0.05},{"s":"g1","t":193,"v":0.045},{"s":"g1","t":196,"v":0.015},{"s":"g1","t":200,"v":0.01},{"s":"g1","t":205,"v":0.015},{"s":"g1","t":210,"v":0.008},{"s":"g1","t":220,"v":0.005},{"s":"g1","t":225,"v":0.004},{"s":"g1","t":229,"v":0.02},{"s":"g1","t":231,"v":0.08},{"s":"g1","t":232.2,"v":0.104},{"s":"g1","t":234,"v":0.07},{"s":"g1","t":236,"v":0.03},{"s":"g1","t":238,"v":0.01},{"s":"g1","t":242,"v":0.005},{"s":"g1","t":245,"v":0.04},{"s":"g1","t":247,"v":0.02},{"s":"g1","t":250,"v":0.005},
  {"s":"g2","t":0,"v":0.01},{"s":"g2","t":8,"v":0.005},{"s":"g2","t":15,"v":0.004},{"s":"g2","t":21,"v":0.005},{"s":"g2","t":24,"v":0.05},{"s":"g2","t":26.2,"v":0.123},{"s":"g2","t":27.5,"v":0.06},{"s":"g2","t":29,"v":0.01},{"s":"g2","t":35,"v":0.005},{"s":"g2","t":45,"v":0.006},{"s":"g2","t":48,"v":0.02},{"s":"g2","t":50,"v":0.05},{"s":"g2","t":53,"v":0.055},{"s":"g2","t":56,"v":0.06},{"s":"g2","t":60,"v":0.07},{"s":"g2","t":64,"v":0.05},{"s":"g2","t":67,"v":0.04},{"s":"g2","t":71,"v":0.055},{"s":"g2","t":75,"v":0.05},{"s":"g2","t":79,"v":0.06},{"s":"g2","t":83,"v":0.065},{"s":"g2","t":87,"v":0.06},{"s":"g2","t":91,"v":0.055},{"s":"g2","t":95,"v":0.07},{"s":"g2","t":99,"v":0.075},{"s":"g2","t":102,"v":0.065},{"s":"g2","t":106,"v":0.04},{"s":"g2","t":110,"v":0.06},{"s":"g2","t":114,"v":0.07},{"s":"g2","t":118,"v":0.05},{"s":"g2","t":122,"v":0.065},{"s":"g2","t":126,"v":0.06},{"s":"g2","t":131,"v":0.05},{"s":"g2","t":135,"v":0.07},{"s":"g2","t":139,"v":0.065},{"s":"g2","t":143,"v":0.06},{"s":"g2","t":148,"v":0.07},{"s":"g2","t":151,"v":0.06},{"s":"g2","t":154,"v":0.04},{"s":"g2","t":158,"v":0.065},{"s":"g2","t":162,"v":0.05},{"s":"g2","t":166,"v":0.05},{"s":"g2","t":170,"v":0.055},{"s":"g2","t":174,"v":0.06},{"s":"g2","t":178,"v":0.05},{"s":"g2","t":182,"v":0.055},{"s":"g2","t":186,"v":0.03},{"s":"g2","t":190,"v":0.06},{"s":"g2","t":194,"v":0.04},{"s":"g2","t":197,"v":0.01},{"s":"g2","t":203,"v":0.012},{"s":"g2","t":207,"v":0.022},{"s":"g2","t":212,"v":0.01},{"s":"g2","t":222,"v":0.005},{"s":"g2","t":227,"v":0.006},{"s":"g2","t":230.5,"v":0.05},{"s":"g2","t":233.9,"v":0.088},{"s":"g2","t":236,"v":0.05},{"s":"g2","t":239,"v":0.01},{"s":"g2","t":243,"v":0.005},{"s":"g2","t":246,"v":0.025},{"s":"g2","t":249,"v":0.02},{"s":"g2","t":250,"v":0.043},
  {"s":"g3","t":0,"v":0.008},{"s":"g3","t":10,"v":0.004},{"s":"g3","t":20,"v":0.004},{"s":"g3","t":30,"v":0.003},{"s":"g3","t":40,"v":0.005},{"s":"g3","t":48,"v":0.01},{"s":"g3","t":50,"v":0.035},{"s":"g3","t":53,"v":0.06},{"s":"g3","t":57,"v":0.065},{"s":"g3","t":61,"v":0.055},{"s":"g3","t":65,"v":0.035},{"s":"g3","t":69,"v":0.05},{"s":"g3","t":73,"v":0.065},{"s":"g3","t":77,"v":0.06},{"s":"g3","t":81,"v":0.07},{"s":"g3","t":85,"v":0.055},{"s":"g3","t":89,"v":0.06},{"s":"g3","t":93,"v":0.065},{"s":"g3","t":97,"v":0.055},{"s":"g3","t":101,"v":0.06},{"s":"g3","t":105,"v":0.03},{"s":"g3","t":109,"v":0.05},{"s":"g3","t":113,"v":0.055},{"s":"g3","t":117,"v":0.045},{"s":"g3","t":121,"v":0.05},{"s":"g3","t":125,"v":0.055},{"s":"g3","t":129,"v":0.06},{"s":"g3","t":133,"v":0.055},{"s":"g3","t":137,"v":0.05},{"s":"g3","t":141,"v":0.06},{"s":"g3","t":145,"v":0.05},{"s":"g3","t":149,"v":0.055},{"s":"g3","t":153,"v":0.03},{"s":"g3","t":157,"v":0.05},{"s":"g3","t":161,"v":0.035},{"s":"g3","t":165,"v":0.045},{"s":"g3","t":169,"v":0.05},{"s":"g3","t":173,"v":0.045},{"s":"g3","t":177,"v":0.055},{"s":"g3","t":181,"v":0.05},{"s":"g3","t":185,"v":0.025},{"s":"g3","t":189,"v":0.04},{"s":"g3","t":193,"v":0.05},{"s":"g3","t":197,"v":0.02},{"s":"g3","t":202,"v":0.02},{"s":"g3","t":206,"v":0.025},{"s":"g3","t":211,"v":0.01},{"s":"g3","t":220,"v":0.005},{"s":"g3","t":226,"v":0.004},{"s":"g3","t":229,"v":0.03},{"s":"g3","t":231.5,"v":0.09},{"s":"g3","t":233,"v":0.07},{"s":"g3","t":236,"v":0.02},{"s":"g3","t":240,"v":0.005},{"s":"g3","t":246,"v":0.01},{"s":"g3","t":250,"v":0.03},
  {"s":"cyan","t":0.5,"v":0.025},{"s":"cyan","t":1.5,"v":0.03},{"s":"cyan","t":2.5,"v":0.028},{"s":"cyan","t":4,"v":0.018},{"s":"cyan","t":6,"v":0.01},{"s":"cyan","t":7.9,"v":0},
  {"s":"yellow","t":0.5,"v":0.03},{"s":"yellow","t":1.5,"v":0.045},{"s":"yellow","t":2.5,"v":0.04},{"s":"yellow","t":4,"v":0.03},{"s":"yellow","t":6,"v":0.02},{"s":"yellow","t":8,"v":0.012},{"s":"yellow","t":10,"v":0.006},{"s":"yellow","t":12.2,"v":0},
  {"s":"green","t":0.5,"v":0.04},{"s":"green","t":1.5,"v":0.065},{"s":"green","t":2.5,"v":0.069},{"s":"green","t":3.5,"v":0.05},{"s":"green","t":5,"v":0.035},{"s":"green","t":7,"v":0.02},{"s":"green","t":9,"v":0.012},{"s":"green","t":11,"v":0.008},{"s":"green","t":13,"v":0.01},{"s":"green","t":14.5,"v":0.008},{"s":"green","t":16.2,"v":0},
  {"s":"red","t":0.5,"v":0.03},{"s":"red","t":5,"v":0.01},{"s":"red","t":10,"v":0.005},{"s":"red","t":15,"v":0.003},{"s":"red","t":18.2,"v":0.005},{"s":"red","t":20.8,"v":0.023},{"s":"red","t":22.6,"v":0.035},{"s":"red","t":24.7,"v":0.069},{"s":"red","t":26.5,"v":0.107},{"s":"red","t":27.8,"v":0.053},{"s":"red","t":29.5,"v":0.015},{"s":"red","t":33,"v":0.006},{"s":"red","t":42.6,"v":0.008},{"s":"red","t":47,"v":0.005},{"s":"red","t":48.7,"v":0.06},{"s":"red","t":50,"v":0.069},{"s":"red","t":52.2,"v":0.05},{"s":"red","t":55.7,"v":0.053},{"s":"red","t":59.2,"v":0.065},{"s":"red","t":61.8,"v":0.057},{"s":"red","t":65.3,"v":0.023},{"s":"red","t":68.8,"v":0.057},{"s":"red","t":73.2,"v":0.069},{"s":"red","t":76.7,"v":0.05},{"s":"red","t":80.2,"v":0.069},{"s":"red","t":83.7,"v":0.077},{"s":"red","t":87.2,"v":0.057},{"s":"red","t":90.6,"v":0.057},{"s":"red","t":94.2,"v":0.069},{"s":"red","t":99.4,"v":0.069},{"s":"red","t":102.9,"v":0.084},{"s":"red","t":105.1,"v":0.035},{"s":"red","t":106.4,"v":0.02},{"s":"red","t":109.9,"v":0.05},{"s":"red","t":115.1,"v":0.053},{"s":"red","t":117.7,"v":0.023},{"s":"red","t":118.6,"v":0.02},{"s":"red","t":121.7,"v":0.08},{"s":"red","t":123,"v":0.05},{"s":"red","t":125.6,"v":0.065},{"s":"red","t":128.2,"v":0.08},{"s":"red","t":131.7,"v":0.069},{"s":"red","t":134.4,"v":0.046},{"s":"red","t":137.8,"v":0.057},{"s":"red","t":142.2,"v":0.077},{"s":"red","t":145.7,"v":0.053},{"s":"red","t":150.1,"v":0.053},{"s":"red","t":153.1,"v":0.02},{"s":"red","t":156.2,"v":0.042},{"s":"red","t":158.4,"v":0.06},{"s":"red","t":161.4,"v":0.02},{"s":"red","t":164,"v":0.053},{"s":"red","t":169.3,"v":0.06},{"s":"red","t":172.8,"v":0.053},{"s":"red","t":178,"v":0.065},{"s":"red","t":181.5,"v":0.053},{"s":"red","t":185,"v":0.015},{"s":"red","t":187.6,"v":0.046},{"s":"red","t":190.7,"v":0.06},{"s":"red","t":193.7,"v":0.053},{"s":"red","t":196.4,"v":0.012},{"s":"red","t":200,"v":0.006},{"s":"red","t":208.6,"v":0.012},{"s":"red","t":214.7,"v":0.017},{"s":"red","t":219,"v":0.008},{"s":"red","t":224,"v":0.006},{"s":"red","t":229.1,"v":0.005},
  {"s":"blue","t":1.1,"v":0.019},{"s":"blue","t":2.7,"v":0.016},{"s":"blue","t":6.8,"v":0.018},{"s":"blue","t":9.4,"v":0.02},{"s":"blue","t":11.2,"v":0.069},{"s":"blue","t":12.5,"v":0.035},{"s":"blue","t":14.7,"v":0.012},{"s":"blue","t":18.2,"v":0.002},{"s":"blue","t":20.8,"v":0.012},{"s":"blue","t":23.4,"v":0.02},{"s":"blue","t":26,"v":0.023},{"s":"blue","t":28.6,"v":0.006},{"s":"blue","t":33.8,"v":0.004},{"s":"blue","t":38.3,"v":0.007},{"s":"blue","t":42.6,"v":0.009},{"s":"blue","t":47,"v":0.009},{"s":"blue","t":48.7,"v":0.02},{"s":"blue","t":50.5,"v":0.024},{"s":"blue","t":52.2,"v":0.07},{"s":"blue","t":54.9,"v":0.104},{"s":"blue","t":56.6,"v":0.08},{"s":"blue","t":59.2,"v":0.077},{"s":"blue","t":61,"v":0.083},{"s":"blue","t":63.2,"v":0.069},{"s":"blue","t":65.3,"v":0.027},{"s":"blue","t":67.5,"v":0.05},{"s":"blue","t":69.7,"v":0.057},{"s":"blue","t":73.2,"v":0.06},{"s":"blue","t":75.8,"v":0.069},{"s":"blue","t":78.4,"v":0.05},{"s":"blue","t":81.9,"v":0.06},{"s":"blue","t":84.6,"v":0.069},{"s":"blue","t":88,"v":0.065},{"s":"blue","t":91.5,"v":0.065},{"s":"blue","t":95.9,"v":0.06},{"s":"blue","t":99.4,"v":0.057},{"s":"blue","t":102.9,"v":0.053},{"s":"blue","t":105.5,"v":0.02},{"s":"blue","t":108.1,"v":0.035},{"s":"blue","t":111.6,"v":0.05},{"s":"blue","t":115.1,"v":0.069},{"s":"blue","t":117.7,"v":0.031},{"s":"blue","t":118.2,"v":0.027},{"s":"blue","t":120.4,"v":0.057},{"s":"blue","t":123.9,"v":0.06},{"s":"blue","t":127.4,"v":0.069},{"s":"blue","t":130.8,"v":0.077},{"s":"blue","t":134.4,"v":0.05},{"s":"blue","t":137.8,"v":0.053},{"s":"blue","t":141.3,"v":0.065},{"s":"blue","t":144.8,"v":0.057},{"s":"blue","t":150.1,"v":0.06},{"s":"blue","t":152.7,"v":0.014},{"s":"blue","t":155.3,"v":0.046},{"s":"blue","t":158.4,"v":0.084},{"s":"blue","t":161.4,"v":0.023},{"s":"blue","t":164,"v":0.053},{"s":"blue","t":167.5,"v":0.057},{"s":"blue","t":171,"v":0.06},{"s":"blue","t":175.4,"v":0.057},{"s":"blue","t":178.9,"v":0.05},{"s":"blue","t":181.5,"v":0.053},{"s":"blue","t":185,"v":0.012},{"s":"blue","t":187.6,"v":0.039},{"s":"blue","t":191.1,"v":0.053},{"s":"blue","t":193.7,"v":0.05},{"s":"blue","t":195.5,"v":0.027},{"s":"blue","t":198.1,"v":0.008},{"s":"blue","t":202.5,"v":0.006},{"s":"blue","t":207.7,"v":0.009},{"s":"blue","t":213,"v":0.015},{"s":"blue","t":217.3,"v":0.009},{"s":"blue","t":223.4,"v":0.003}
 ]
},
"vconcat": [
 {
  "width": 954, "height": 87,
  "view": {"stroke": null},
  "data": {"name": "header"},
  "encoding": {"x": {"field": "t", "type": "quantitative", "scale": {"domain": [0, 250], "nice": false, "zero": false}, "axis": null}},
  "layer": [
   {"transform": [{"filter": "datum.dir == 'up'"}], "mark": {"type": "rule", "color": "#000000", "strokeWidth": 2},
    "encoding": {"y": {"datum": 0.195, "type": "quantitative", "scale": {"domain": [0, 1], "nice": false}, "axis": null}, "y2": {"datum": 0.76}}},
   {"transform": [{"filter": "datum.dir == 'up'"}], "mark": {"type": "point", "shape": "M0,-1L0.6,1L-0.6,1Z", "filled": true, "opacity": 1, "size": 420, "color": "#000000", "strokeWidth": 0},
    "encoding": {"y": {"datum": 0.83, "type": "quantitative", "axis": null}}},
   {"transform": [{"filter": "datum.dir == 'down'"}], "mark": {"type": "rule", "color": "#000000", "strokeWidth": 2},
    "encoding": {"y": {"datum": 0.83, "type": "quantitative", "axis": null}, "y2": {"datum": 0.4}}},
   {"transform": [{"filter": "datum.dir == 'down'"}], "mark": {"type": "point", "shape": "M0,1L0.6,-1L-0.6,-1Z", "filled": true, "opacity": 1, "size": 520, "color": "#000000", "strokeWidth": 0},
    "encoding": {"y": {"datum": 0.325, "type": "quantitative", "axis": null}}},
   {"mark": {"type": "text", "align": "left", "baseline": "middle", "dx": 26, "fontSize": 29, "color": "#000000", "font": "Liberation Sans"},
    "encoding": {"y": {"datum": 0.6, "type": "quantitative", "axis": null}, "text": {"field": "label"}}}
  ]
 },
 {
  "width": 954, "height": 138,
  "resolve": {"axis": {"x": "independent", "y": "independent"}},
  "layer": [
   {"data": {"name": "ph"}, "mark": {"type": "line", "color": "#0000ff", "strokeWidth": 1.3},
    "encoding": {
     "x": {"field": "t", "type": "quantitative", "scale": {"domain": [0, 250], "nice": false}, "axis": {"orient": "bottom", "values": [0,25,50,75,100,125,150,175,200,225,250], "labels": false, "tickSize": -7, "title": "H", "titleFontSize": 26, "titleAngle": 270, "titleX": -98, "titleY": -20, "titleAlign": "center", "titleBaseline": "alphabetic"}},
     "y": {"field": "v", "type": "quantitative", "scale": {"domain": [0, 1.01], "nice": false}, "axis": {"orient": "left", "values": [0, 0.5, 1], "format": "~g", "tickSize": -7, "labelPadding": 9, "title": "P\u00a0\u00a0\u00a0statistic", "titleFontSize": 38, "titleAngle": 270, "titleX": -111, "titleY": 64, "titleAlign": "center", "titleBaseline": "alphabetic"}}
    }},
   {"data": {"name": "rules"}, "mark": {"type": "rule", "color": "#ff0000", "strokeWidth": 1.3, "strokeDash": [15, 13]},
    "encoding": {
     "x": {"datum": 0, "type": "quantitative", "axis": {"orient": "top", "values": [0,25,50,75,100,125,150,175,200,225,250], "labels": false, "tickSize": -7, "title": null}},
     "x2": {"datum": 250},
     "y": {"field": "h", "type": "quantitative", "axis": {"orient": "right", "values": [0, 0.5, 1], "labels": false, "tickSize": -7, "title": null}}
    }}
  ]
 },
 {
  "width": 954, "height": 340,
  "data": {"name": "mid"},
  "resolve": {"axis": {"x": "independent", "y": "independent"}},
  "encoding": {
   "color": {"field": "s", "type": "nominal", "legend": null, "scale": {"domain": ["grey0","grey","palegreen","brown1","green","blue","red","purple","orange","olive","teal","lightgrey","magenta","darkgreen","black","yellow","sienna","cyan","lightblue"], "range": ["#808080","#808080","#c0dcc0","#704040","#00ff00","#0000ff","#ff0000","#b400b4","#ffb366","#bfbf00","#00bfbf","#c8c8c8","#ff00ff","#007f00","#000000","#ffff00","#9c3f0a","#00ffff","#b8d0ec"]}}
  },
  "layer": [
   {"transform": [{"filter": {"field": "s", "oneOf": ["grey0", "grey"]}}],
    "mark": {"type": "line", "strokeJoin": "round", "strokeCap": "round", "strokeWidth": 2.6},
    "encoding": {
     "x": {"field": "t", "type": "quantitative", "scale": {"domain": [0, 250], "nice": false}, "axis": {"orient": "bottom", "values": [0,25,50,75,100,125,150,175,200,225,250], "labels": false, "tickSize": -9, "title": null}},
     "y": {"field": "v", "type": "quantitative", "scale": {"domain": [0, 1], "nice": false}, "axis": {"orient": "left", "values": [0, 0.2, 0.4, 0.6, 0.8], "format": "~g", "tickSize": -9, "labelPadding": 9, "title": "Allele frequency", "titleFontSize": 40, "titleAngle": 270, "titleX": -109, "titleY": 265, "titleAlign": "center", "titleBaseline": "alphabetic"}}
    }},
   {"transform": [{"filter": {"not": {"field": "s", "oneOf": ["grey0", "grey"]}}}],
    "mark": {"type": "line", "strokeJoin": "round", "strokeCap": "round", "strokeWidth": 4},
    "encoding": {
     "x": {"field": "t", "type": "quantitative", "axis": {"orient": "top", "values": [0,25,50,75,100,125,150,175,200,225,250], "labels": false, "tickSize": -9, "title": null}},
     "y": {"field": "v", "type": "quantitative", "axis": {"orient": "right", "values": [0, 0.2, 0.4, 0.6, 0.8], "labels": false, "tickSize": -9, "title": null}}
    }}
  ]
 },
 {
  "width": 954, "height": 58,
  "view": {"stroke": null},
  "data": {"name": "arrows"},
  "encoding": {
   "x": {"field": "t", "type": "quantitative", "scale": {"domain": [0, 250], "nice": false}, "axis": null},
   "color": {"field": "a", "type": "nominal", "legend": null, "scale": {"domain": ["red","green","blue","grey","purple","brown1","orange","olive","teal","lightgrey","magenta","darkgreen","black","palegreen","yellow","orangered","cyan","lightblue"], "range": ["#ff0000","#00ff00","#0000ff","#808080","#b400b4","#6e4040","#ffb366","#bfbf00","#00bfbf","#c8c8c8","#ff00ff","#007f00","#000000","#c0dcc8","#ffff00","#d93a0e","#00ffff","#b8d0ec"]}}
  },
  "layer": [
   {"transform": [{"filter": "datum.dir == 'up'"}], "mark": {"type": "rule", "strokeWidth": 3},
    "encoding": {"y": {"datum": 0.069, "type": "quantitative", "scale": {"domain": [0, 1], "nice": false}, "axis": null}, "y2": {"datum": 0.76}}},
   {"transform": [{"filter": "datum.dir == 'up'"}], "mark": {"type": "point", "shape": "M0,-1L0.86,1L-0.86,1Z", "filled": true, "opacity": 1, "size": 529, "strokeWidth": 0},
    "encoding": {"y": {"datum": 0.94, "type": "quantitative", "axis": null}}},
   {"transform": [{"filter": "datum.dir == 'down'"}], "mark": {"type": "rule", "strokeWidth": 3},
    "encoding": {"y": {"datum": 1.05, "type": "quantitative", "axis": null}, "y2": {"datum": 0.46}}},
   {"transform": [{"filter": "datum.dir == 'down'"}], "mark": {"type": "point", "shape": "M0,1L0.8,-1L-0.8,-1Z", "filled": true, "opacity": 1, "size": 625, "strokeWidth": 0},
    "encoding": {"y": {"datum": 0.267, "type": "quantitative", "axis": null}}}
  ]
 },
 {
  "width": 954, "height": 65,
  "data": {"name": "bot"},
  "resolve": {"axis": {"x": "independent", "y": "independent"}},
  "encoding": {
   "color": {"field": "s", "type": "nominal", "legend": null, "scale": {"domain": ["g1","g2","g3","cyan","yellow","green","red","blue"], "range": ["#808080","#808080","#808080","#00ffff","#ffff00","#00ff00","#ff0000","#0000ff"]}}
  },
  "layer": [
   {"transform": [{"filter": {"field": "s", "oneOf": ["g1", "g2", "g3"]}}],
    "mark": {"type": "line", "strokeJoin": "round", "strokeWidth": 2},
    "encoding": {
     "x": {"field": "t", "type": "quantitative", "scale": {"domain": [0, 250], "nice": false}, "axis": {"orient": "bottom", "values": [0,25,50,75,100,125,150,175,200,225,250], "tickSize": -7, "labelPadding": 19, "labelFlush": false, "title": null}},
     "y": {"field": "v", "type": "quantitative", "scale": {"domain": [0, 0.15], "nice": false}, "axis": {"orient": "left", "values": [0, 0.05, 0.1], "format": "~g", "labelExpr": "datum.value == 0.05 ? '' : datum.label", "tickSize": -7, "labelPadding": 9, "title": null}}
    }},
   {"transform": [{"filter": {"not": {"field": "s", "oneOf": ["g1", "g2", "g3"]}}}],
    "mark": {"type": "line", "strokeJoin": "round", "strokeCap": "round", "strokeWidth": 4},
    "encoding": {
     "x": {"field": "t", "type": "quantitative", "axis": {"orient": "top", "values": [0,25,50,75,100,125,150,175,200,225,250], "labels": false, "tickSize": -7, "title": null}},
     "y": {"field": "v", "type": "quantitative", "axis": {"orient": "right", "values": [0, 0.05, 0.1], "labels": false, "tickSize": -7, "title": null}}
    }}
  ]
 },
 {
  "width": 954, "height": 100,
  "view": {"stroke": null},
  "data": {"name": "arrows2"},
  "encoding": {
   "x": {"field": "t", "type": "quantitative", "scale": {"domain": [0, 250], "nice": false}, "axis": {"labels": false, "ticks": false, "domain": false, "title": "Time [host generations]", "titleFontSize": 39, "titlePadding": 2}},
   "color": {"field": "a", "type": "nominal", "legend": null, "scale": {"domain": ["cyan","yellow","green","blue","red"], "range": ["#00ffff","#ffff00","#00ff00","#0000ff","#ff0000"]}}
  },
  "layer": [
   {"mark": {"type": "rule", "strokeWidth": 2},
    "encoding": {"y": {"datum": 0.69, "type": "quantitative", "scale": {"domain": [0, 1], "nice": false}, "axis": null}, "y2": {"datum": 0.3}}},
   {"mark": {"type": "point", "shape": "M0,1L0.8,-1L-0.8,-1Z", "filled": true, "opacity": 1, "size": 676, "strokeWidth": 0},
    "encoding": {"y": {"datum": 0.23, "type": "quantitative", "axis": null}}}
  ]
 }
]
}
